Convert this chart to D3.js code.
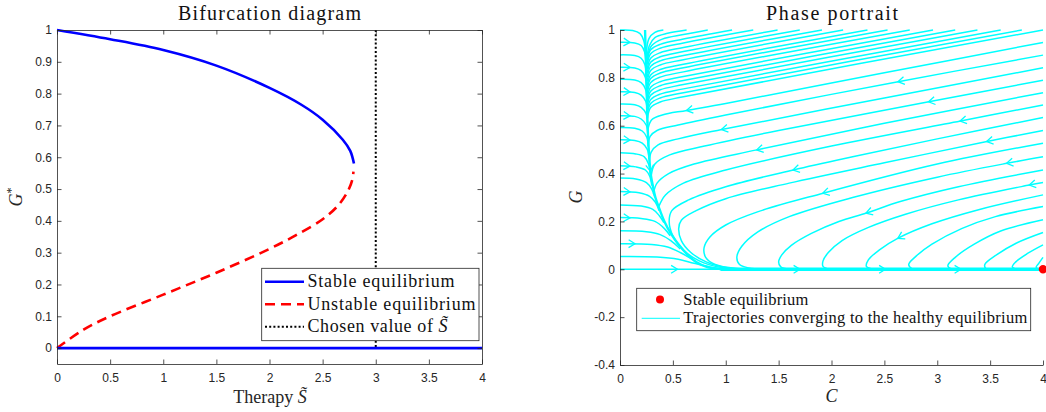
<!DOCTYPE html>
<html><head><meta charset="utf-8">
<script src="https://cdn.jsdelivr.net/npm/d3@7"></script>
<style>body{margin:0;background:#fff}svg{display:block}</style>
</head><body>
<svg id="c" width="1046" height="412"></svg>
<script>
// ---------------- DATA ----------------
const bifXTicks = [0,0.5,1,1.5,2,2.5,3,3.5,4];
const bifXLabels = ["0","0.5","1","1.5","2","2.5","3","3.5","4"];
const bifYTicks = [0,0.1,0.2,0.3,0.4,0.5,0.6,0.7,0.8,0.9,1];
const bifYLabels = ["0","0.1","0.2","0.3","0.4","0.5","0.6","0.7","0.8","0.9","1"];
const stableUpperS = [0,0.5,1.0,1.5,2.0,2.3,2.5,2.69,2.76,2.795];
const stableUpperG = [1,0.971,0.937,0.888,0.818,0.765,0.718,0.655,0.62,0.58];
const unstableS = [0,0.25,0.5,1.0,1.5,2.0,2.25,2.5,2.65,2.74,2.78,2.79];
const unstableG = [0,0.058,0.10,0.168,0.237,0.312,0.355,0.405,0.45,0.495,0.53,0.555];
const stableLowerS = [0,4];
const stableLowerG = [0,0];
const chosenS = 3;
const bifLegend = ["Stable equilibrium","Unstable equilibrium","Chosen value of "];

const phaseXTicks = [0,0.5,1,1.5,2,2.5,3,3.5,4];
const phaseXLabels = ["0","0.5","1","1.5","2","2.5","3","3.5","4"];
const phaseYTicks = [-0.4,-0.2,0,0.2,0.4,0.6,0.8,1];
const phaseYLabels = ["-0.4","-0.2","0","0.2","0.4","0.6","0.8","1"];
const equilibrium = [4,0];
const phaseLegend = ["Stable equilibrium","Trajectories converging to the healthy equilibrium"];

// attracting curve (C, G), in flow order
const separatrix = [[0.237,1],[0.243,0.9],[0.249,0.8],[0.255,0.7],[0.261,0.6],[0.272,0.5],[0.29,0.4],[0.31,0.35],[0.335,0.3],[0.375,0.25],[0.42,0.2],[0.48,0.15],[0.56,0.1],[0.64,0.06],[0.72,0.03],[0.82,0.01],[0.95,0.001],[1.1,0]];
const axisTraj = [[0,0],[4,0]];
const axisThick = [[0.95,0],[4,0]];
// trajectories entering from the left edge
const leftTraj = [
 [[0,1],[0.12,0.998],[0.19,0.985],[0.225,0.955],[0.24,0.9]],
 [[0,0.949],[0.14,0.946],[0.2,0.935],[0.232,0.909],[0.245,0.869]],
 [[0,0.896],[0.14,0.893],[0.2,0.882],[0.235,0.856],[0.248,0.816]],
 [[0,0.844],[0.14,0.841],[0.2,0.83],[0.238,0.804],[0.251,0.764]],
 [[0,0.794],[0.14,0.791],[0.2,0.78],[0.24,0.754],[0.254,0.714]],
 [[0,0.742],[0.14,0.739],[0.2,0.728],[0.243,0.702],[0.257,0.662]],
 [[0,0.691],[0.14,0.688],[0.2,0.677],[0.246,0.651],[0.26,0.611]],
 [[0,0.642],[0.14,0.639],[0.2,0.628],[0.249,0.602],[0.263,0.562]],
 [[0,0.592],[0.14,0.589],[0.21,0.578],[0.253,0.552],[0.268,0.512]],
 [[0,0.541],[0.14,0.538],[0.21,0.527],[0.258,0.501],[0.275,0.461]],
 [[0,0.487],[0.15,0.482],[0.23,0.47],[0.27,0.44],[0.287,0.395]],
 [[0,0.433],[0.15,0.428],[0.24,0.415],[0.28,0.39],[0.30,0.35]],
 [[0,0.381],[0.15,0.377],[0.25,0.362],[0.30,0.335],[0.33,0.30]],
 [[0,0.325],[0.18,0.32],[0.28,0.305],[0.335,0.28],[0.37,0.245]],
 [[0,0.269],[0.2,0.264],[0.31,0.25],[0.37,0.225],[0.415,0.195]],
 [[0,0.216],[0.2,0.212],[0.33,0.2],[0.42,0.17],[0.475,0.14]],
 [[0,0.161],[0.25,0.157],[0.38,0.145],[0.48,0.12],[0.57,0.085]],
 [[0,0.107],[0.3,0.104],[0.45,0.093],[0.57,0.07],[0.68,0.042]],
 [[0,0.053],[0.35,0.051],[0.55,0.042],[0.7,0.025],[0.85,0.01],[1.0,0.002]]
];
// trajectories entering from the top edge
const topTraj = [
 [[0.41,1],[0.33,0.99],[0.275,0.965],[0.252,0.92],[0.245,0.87]],
 [[0.63,1],[0.45,0.986],[0.33,0.968],[0.278,0.935],[0.252,0.87]],
 [[0.83,1],[0.6,0.981],[0.4,0.962],[0.3,0.935],[0.262,0.89],[0.252,0.83]],
 [[1.06,1],[0.6,0.962],[0.38,0.94],[0.29,0.917],[0.258,0.872]],
 [[1.26,1],[0.6,0.946],[0.38,0.924],[0.29,0.901],[0.258,0.856]],
 [[1.49,1],[0.6,0.927],[0.38,0.905],[0.29,0.882],[0.258,0.837]],
 [[1.70,1],[0.6,0.910],[0.38,0.888],[0.29,0.865],[0.258,0.82]],
 [[1.91,1],[0.6,0.893],[0.38,0.871],[0.29,0.848],[0.258,0.803]],
 [[2.11,1],[0.6,0.876],[0.38,0.854],[0.29,0.831],[0.258,0.786]],
 [[2.34,1],[0.6,0.857],[0.38,0.835],[0.29,0.812],[0.258,0.767]],
 [[2.53,1],[0.6,0.842],[0.38,0.82],[0.29,0.797],[0.258,0.752]],
 [[2.74,1],[0.6,0.825],[0.38,0.803],[0.29,0.78],[0.258,0.735]],
 [[2.96,1],[0.6,0.806],[0.38,0.784],[0.29,0.761],[0.258,0.716]],
 [[3.17,1],[0.6,0.789],[0.38,0.767],[0.29,0.744],[0.258,0.699]],
 [[3.38,1],[0.6,0.772],[0.38,0.75],[0.29,0.727],[0.258,0.682]],
 [[3.60,1],[0.6,0.754],[0.38,0.732],[0.29,0.709],[0.258,0.664]],
 [[3.80,1],[0.6,0.738],[0.38,0.716],[0.29,0.693],[0.258,0.648]],
 [[4.00,1],[0.6,0.721],[0.38,0.699],[0.29,0.676],[0.26,0.631]]
];
// trajectories entering from the right edge
const rightTraj = [
 [[4,0.948],[2.5,0.821],[1.0,0.693],[0.63,0.664],[0.40,0.645],[0.30,0.625],[0.264,0.585]],
 [[4,0.895],[2.63,0.784],[1.0,0.645],[0.55,0.603],[0.35,0.58],[0.285,0.555],[0.268,0.515]],
 [[4,0.842],[2.5,0.716],[0.962,0.584],[0.55,0.545],[0.36,0.52],[0.295,0.49],[0.278,0.45]],
 [[4,0.79],[2.92,0.70],[1.5,0.58],[0.8,0.515],[0.47,0.478],[0.33,0.44],[0.295,0.39]],
 [[4,0.738],[2.5,0.61],[1.293,0.499],[0.7,0.44],[0.46,0.40],[0.35,0.36],[0.315,0.315]],
 [[4,0.687],[3.22,0.62],[2.0,0.515],[1.0,0.415],[0.6,0.36],[0.43,0.31],[0.365,0.26]],
 [[4,0.634],[3.0,0.545],[2.2,0.47],[1.64,0.415],[1.0,0.345],[0.65,0.29],[0.49,0.245],[0.465,0.20],[0.50,0.14],[0.6,0.08],[0.75,0.035],[0.95,0.008],[1.2,0]],
 [[4,0.58],[3.47,0.534],[2.5,0.445],[1.6,0.36],[1.0,0.295],[0.72,0.245],[0.58,0.205],[0.555,0.17],[0.58,0.12],[0.67,0.07],[0.82,0.03],[1.0,0.008],[1.3,0]],
 [[4,0.527],[3.0,0.44],[1.92,0.318],[1.3,0.24],[1.0,0.185],[0.85,0.135],[0.795,0.09],[0.81,0.05],[0.9,0.02],[1.1,0.003],[1.4,0]],
 [[4,0.47],[3.66,0.443],[3.0,0.385],[2.2,0.30],[1.6,0.22],[1.3,0.155],[1.15,0.095],[1.105,0.05],[1.13,0.02],[1.25,0.003],[1.5,0]],
 [[4,0.415],[3.2,0.345],[2.65,0.283],[2.33,0.235],[2.07,0.20],[1.81,0.15],[1.62,0.10],[1.53,0.06],[1.50,0.03],[1.52,0.01],[1.6,0]],
 [[4,0.363],[3.87,0.352],[3.2,0.29],[2.7,0.23],[2.35,0.175],[2.1,0.12],[1.97,0.07],[1.92,0.035],[1.92,0.012],[1.98,0]],
 [[4,0.311],[3.4,0.25],[2.95,0.19],[2.63,0.13],[2.45,0.08],[2.35,0.04],[2.33,0.012],[2.4,0]],
 [[4,0.262],[3.55,0.22],[3.23,0.17],[2.95,0.105],[2.8,0.055],[2.73,0.02],[2.76,0.003],[2.85,0]],
 [[4,0.207],[3.6,0.16],[3.35,0.105],[3.17,0.05],[3.10,0.015],[3.13,0.002],[3.2,0]],
 [[4,0.154],[3.75,0.11],[3.56,0.06],[3.45,0.02],[3.46,0.003],[3.52,0]],
 [[4,0.102],[3.85,0.065],[3.74,0.03],[3.71,0.01],[3.75,0]],
 [[4,0.05],[3.96,0.025],[3.935,0.008],[3.96,0]]
];
// arrow positions (C where the arrow tip sits, per trajectory index; null = no arrow)
const leftArrowC = [null,0.09,null,0.09,null,0.09,null,0.09,null,0.09,null,0.09,null,0.09,null,0.09,null,0.14,null];
const rightArrowC = [0.63,2.63,0.962,2.92,1.293,3.22,1.64,3.47,1.92,3.66,2.33,3.87,2.63,null,null,null,null,null];
const axisArrowC = [0.54,1.7,2.51,3.22];
const separatrixArrowG = [0.41];

// ---------------- DRAW ----------------
const svg = d3.select('#c');
const serif = '"Liberation Serif","Times New Roman",serif';
const sans = '"Liberation Sans",Arial,Helvetica,sans-serif';
const axisColor = '#262626';

function styleAxis(g){
  g.attr('font-family', sans).attr('font-size', 12);
  g.selectAll('path.domain').attr('stroke', axisColor).attr('stroke-width', 0.8);
  g.selectAll('.tick line').attr('stroke', axisColor).attr('stroke-width', 0.8);
  g.selectAll('.tick text').attr('fill', axisColor);
}

// ===== LEFT: bifurcation diagram =====
const xL = d3.scaleLinear().domain([0,4]).range([57,482]);
const yL = d3.scaleLinear().domain([-0.05,1]).range([364,30]);
const L = svg.append('g');

const lineL = d3.line().x(d=>xL(d[0])).y(d=>yL(d[1])).curve(d3.curveCatmullRom.alpha(0.5));
const upper = stableUpperS.map((s,i)=>[s,stableUpperG[i]]);
const unstable = unstableS.map((s,i)=>[s,unstableG[i]]);
const lower = stableLowerS.map((s,i)=>[s,stableLowerG[i]]);

L.append('line').attr('x1',xL(chosenS)).attr('x2',xL(chosenS)).attr('y1',yL(1)).attr('y2',yL(0))
  .attr('stroke','#000').attr('stroke-width',2).attr('stroke-dasharray','2,2.2');
L.append('path').attr('d',lineL(upper)).attr('fill','none').attr('stroke','#0000ff').attr('stroke-width',2.6);
L.append('path').attr('d',lineL(unstable)).attr('fill','none').attr('stroke','#ff0000').attr('stroke-width',2.6).attr('stroke-dasharray','10,6');
L.append('path').attr('d',d3.line().x(d=>xL(d[0])).y(d=>yL(d[1]))(lower)).attr('fill','none').attr('stroke','#0000ff').attr('stroke-width',2.6);

const tk = -4.5;
styleAxis(L.append('g').attr('transform','translate(0,364)')
  .call(d3.axisBottom(xL).tickValues(bifXTicks).tickFormat((d,i)=>bifXLabels[i]).tickSizeInner(tk).tickSizeOuter(0).tickPadding(9)));
styleAxis(L.append('g').attr('transform','translate(0,30)')
  .call(d3.axisTop(xL).tickValues(bifXTicks).tickFormat('').tickSizeInner(tk).tickSizeOuter(0)));
styleAxis(L.append('g').attr('transform','translate(57,0)')
  .call(d3.axisLeft(yL).tickValues(bifYTicks).tickFormat((d,i)=>bifYLabels[i]).tickSizeInner(tk).tickSizeOuter(0).tickPadding(5)));
styleAxis(L.append('g').attr('transform','translate(482,0)')
  .call(d3.axisRight(yL).tickValues(bifYTicks).tickFormat('').tickSizeInner(tk).tickSizeOuter(0)));

// title & labels
L.append('text').attr('x',269.5).attr('y',20).attr('text-anchor','middle').attr('font-family',serif)
  .attr('font-size',20).attr('fill','#111').attr('textLength',183).attr('lengthAdjust','spacing').text('Bifurcation diagram');
const xlab = L.append('text').attr('x',270).attr('y',403).attr('text-anchor','middle').attr('font-family',serif)
  .attr('font-size',18).attr('fill',axisColor);
xlab.append('tspan').text('Therapy ');
xlab.append('tspan').attr('font-style','italic').text('S\u0303');
const ylab = L.append('text').attr('transform','translate(22,197) rotate(-90)').attr('text-anchor','middle')
  .attr('font-family',serif).attr('font-size',18).attr('fill',axisColor);
ylab.append('tspan').attr('font-style','italic').text('G');
ylab.append('tspan').attr('font-size',12).attr('dy',-7).text('*');

// legend
const lg = L.append('g');
lg.append('rect').attr('x',261.7).attr('y',268.3).attr('width',217.3).attr('height',72.4)
  .attr('fill','#fff').attr('stroke',axisColor).attr('stroke-width',0.8);
const legY = [281.7,304.2,326.7];
const legStyles = [
  {c:'#0000ff',d:null,w:2.6},{c:'#ff0000',d:'10,6',w:2.6},{c:'#000',d:'2,2.2',w:2}
];
const legW = [147,168,null];
legY.forEach((y,i)=>{
  const s = legStyles[i];
  lg.append('line').attr('x1',265).attr('x2',304).attr('y1',y).attr('y2',y)
    .attr('stroke',s.c).attr('stroke-width',s.w).attr('stroke-dasharray',s.d);
  const t = lg.append('text').attr('x',307.5).attr('y',y+5.5).attr('font-family',serif).attr('font-size',18).attr('fill','#111');
  if (legW[i]) { t.attr('textLength',legW[i]).attr('lengthAdjust','spacing').text(bifLegend[i]); }
  else { t.attr('letter-spacing',0.6).text(bifLegend[i]); t.append('tspan').attr('font-style','italic').text('S\u0303'); }
});

// ===== RIGHT: phase portrait =====
const xR = d3.scaleLinear().domain([0,4]).range([620,1043]);
const yR = d3.scaleLinear().domain([-0.4,1]).range([365,30]);
const R = svg.append('g');
R.append('clipPath').attr('id','clipR').append('rect').attr('x',619).attr('y',29).attr('width',430).attr('height',242);
const traj = R.append('g').attr('clip-path','url(#clipR)');
const lineR = d3.line().x(d=>xR(d[0])).y(d=>yR(d[1])).curve(d3.curveCatmullRom.alpha(0.5));
const cyan = '#00ffff';

function drawTraj(data, w){
  return traj.append('path').attr('d',lineR(data)).attr('fill','none').attr('stroke',cyan)
    .attr('stroke-width',w).attr('stroke-linejoin','round').node();
}
const arrowG = R.append('g');
function arrowAt(node, target, axis){
  const Ltot = node.getTotalLength();
  let prev = node.getPointAtLength(0), found = null;
  for (let l=0.5; l<=Ltot; l+=0.5){
    const p = node.getPointAtLength(l);
    const a = axis==='x' ? prev.x - target : prev.y - target;
    const b = axis==='x' ? p.x - target : p.y - target;
    if (a===0 || a*b<=0){ found = l; break; }
    prev = p;
  }
  if (found===null) return;
  const p = node.getPointAtLength(found);
  const p0 = node.getPointAtLength(Math.max(0,found-2));
  const p1 = node.getPointAtLength(Math.min(Ltot,found+2));
  const ang = Math.atan2(p1.y-p0.y, p1.x-p0.x);
  const len = 7.5, h = 0.55;
  const b1 = [p.x - len*Math.cos(ang-h), p.y - len*Math.sin(ang-h)];
  const b2 = [p.x - len*Math.cos(ang+h), p.y - len*Math.sin(ang+h)];
  arrowG.append('path').attr('d',`M${b1[0]},${b1[1]}L${p.x},${p.y}L${b2[0]},${b2[1]}`)
    .attr('fill','none').attr('stroke',cyan).attr('stroke-width',1.3);
}

const axisNode = drawTraj(axisTraj, 1.5);
drawTraj(axisThick, 3.6);
const leftNodes = leftTraj.map(t=>drawTraj(t,1.5));
topTraj.forEach(t=>drawTraj(t,1.5));
const rightNodes = rightTraj.map(t=>drawTraj(t,1.5));
const sepNode = drawTraj(separatrix, 2.4);

leftArrowC.forEach((c,i)=>{ if(c!==null) arrowAt(leftNodes[i], xR(c), 'x'); });
rightArrowC.forEach((c,i)=>{ if(c!==null) arrowAt(rightNodes[i], xR(c), 'x'); });
axisArrowC.forEach(c=>arrowAt(axisNode, xR(c), 'x'));
separatrixArrowG.forEach(g=>arrowAt(sepNode, yR(g), 'y'));

R.append('circle').attr('cx',xR(equilibrium[0])).attr('cy',yR(equilibrium[1])).attr('r',4.2).attr('fill','#ff0000');

styleAxis(R.append('g').attr('transform','translate(0,365)')
  .call(d3.axisBottom(xR).tickValues(phaseXTicks).tickFormat((d,i)=>phaseXLabels[i]).tickSizeInner(tk).tickSizeOuter(0).tickPadding(9)));
styleAxis(R.append('g').attr('transform','translate(620,0)')
  .call(d3.axisLeft(yR).tickValues(phaseYTicks).tickFormat((d,i)=>phaseYLabels[i]).tickSizeInner(tk).tickSizeOuter(0).tickPadding(5)));

R.append('text').attr('x',832).attr('y',20).attr('text-anchor','middle').attr('font-family',serif)
  .attr('font-size',20).attr('fill','#111').attr('textLength',132).attr('lengthAdjust','spacing').text('Phase portrait');
R.append('text').attr('x',831.5).attr('y',402).attr('text-anchor','middle').attr('font-family',serif)
  .attr('font-size',18).attr('font-style','italic').attr('fill',axisColor).text('C');
R.append('text').attr('transform','translate(582,197) rotate(-90)').attr('text-anchor','middle')
  .attr('font-family',serif).attr('font-size',18).attr('font-style','italic').attr('fill',axisColor).text('G');

const rl = R.append('g');
rl.append('rect').attr('x',636.7).attr('y',288.3).attr('width',394).attr('height',42.4)
  .attr('fill','#fff').attr('stroke',axisColor).attr('stroke-width',0.8);
rl.append('circle').attr('cx',660).attr('cy',299.5).attr('r',4).attr('fill','#ff0000');
rl.append('line').attr('x1',641.7).attr('x2',680).attr('y1',318.3).attr('y2',318.3).attr('stroke',cyan).attr('stroke-width',1);
rl.append('text').attr('x',683.3).attr('y',304.5).attr('font-family',serif).attr('font-size',16.5).attr('fill','#111')
  .attr('textLength',125).attr('lengthAdjust','spacing').text(phaseLegend[0]);
rl.append('text').attr('x',683.3).attr('y',323.3).attr('font-family',serif).attr('font-size',16.5).attr('fill','#111')
  .attr('textLength',344).attr('lengthAdjust','spacing').text(phaseLegend[1]);
</script>
</body></html>
